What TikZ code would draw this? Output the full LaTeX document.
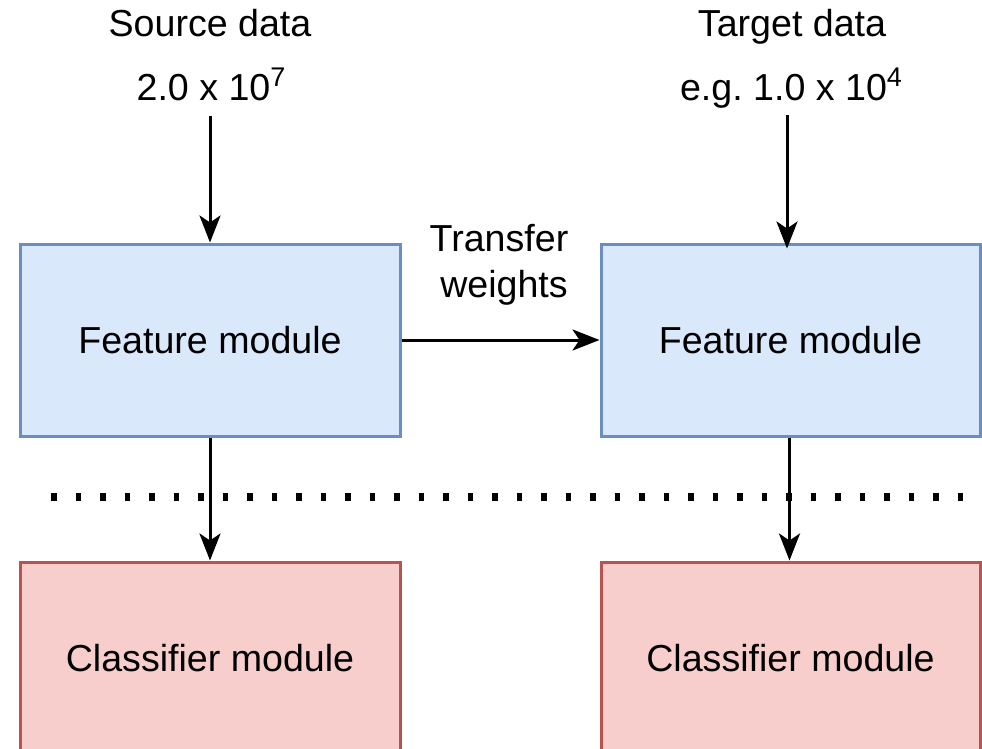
\documentclass[tikz,border=0pt]{standalone}
\usepackage{fontspec}
\setmainfont{Liberation Sans}
\usetikzlibrary{arrows.meta}
\definecolor{fblue}{HTML}{DAE8FC}
\definecolor{sblue}{HTML}{6C8EBF}
\definecolor{fred}{HTML}{F8CECC}
\definecolor{sred}{HTML}{B85450}
\newcommand\supnum[1]{\raisebox{14pt}{\fontsize{27}{27}\selectfont #1}}
\tikzset{
  featbox/.style={draw=sblue, fill=fblue, line width=3pt, minimum width=380pt, minimum height=192pt, inner sep=0pt},
  clsbox/.style={draw=sred, fill=fred, line width=3pt, minimum width=380pt, minimum height=192pt, inner sep=0pt},
  lbl/.style={anchor=base, inner sep=2pt},
  arr/.style={-{Stealth[length=27pt,width=21pt,inset=7pt]}, line width=3pt},
  dotline/.style={line width=7.5pt, dash pattern=on 5.5pt off 19pt},
}
\begin{document}
\begin{tikzpicture}[x=1pt, y=-1pt, font=\fontsize{37.6pt}{45pt}\selectfont]
\clip (0,0) rectangle (982,749);
\useasboundingbox (0,0) rectangle (982,749);

% dotted separator
\draw[dotline] (51,497) -- (972,497);

% boxes
\node[featbox] (fsL) at (210,340) {Feature module};
\node[featbox, minimum width=379pt] (fsR) at (790.5,340) {Feature module};
\node[clsbox] (clL) at (210,658) {Classifier module};
\node[clsbox, minimum width=379pt] (clR) at (790.5,658) {Classifier module};

% labels
\node[lbl] (src1) at (210,37) {Source data};
\node[lbl] (src2) at (211,101) {2.0 x 10\supnum{7}};
\node[lbl] (tgt1) at (792,37) {Target data};
\node[lbl] (tgt2) at (791,101) {e.g.\ 1.0 x 10\supnum{4}};
\node[lbl] (tw1) at (499,251) {Transfer};
\node[lbl] (tw2) at (504,297) {weights};

% connectors
\draw[arr, shorten <=12pt] (src2.south -| fsL.north) -- (fsL.north);
\draw[arr, shorten <=4pt, shorten >=-6pt] ([xshift=-4pt]tgt2.south) -- ([xshift=-4pt]tgt2.south |- fsR.north);
\draw[arr] (fsL.east) -- (fsR.west);
\draw[arr] (fsL.south) -- (clL.north);
\draw[arr] ([xshift=-1pt]fsR.south) -- ([xshift=-1pt]clR.north);
\end{tikzpicture}
\end{document}
